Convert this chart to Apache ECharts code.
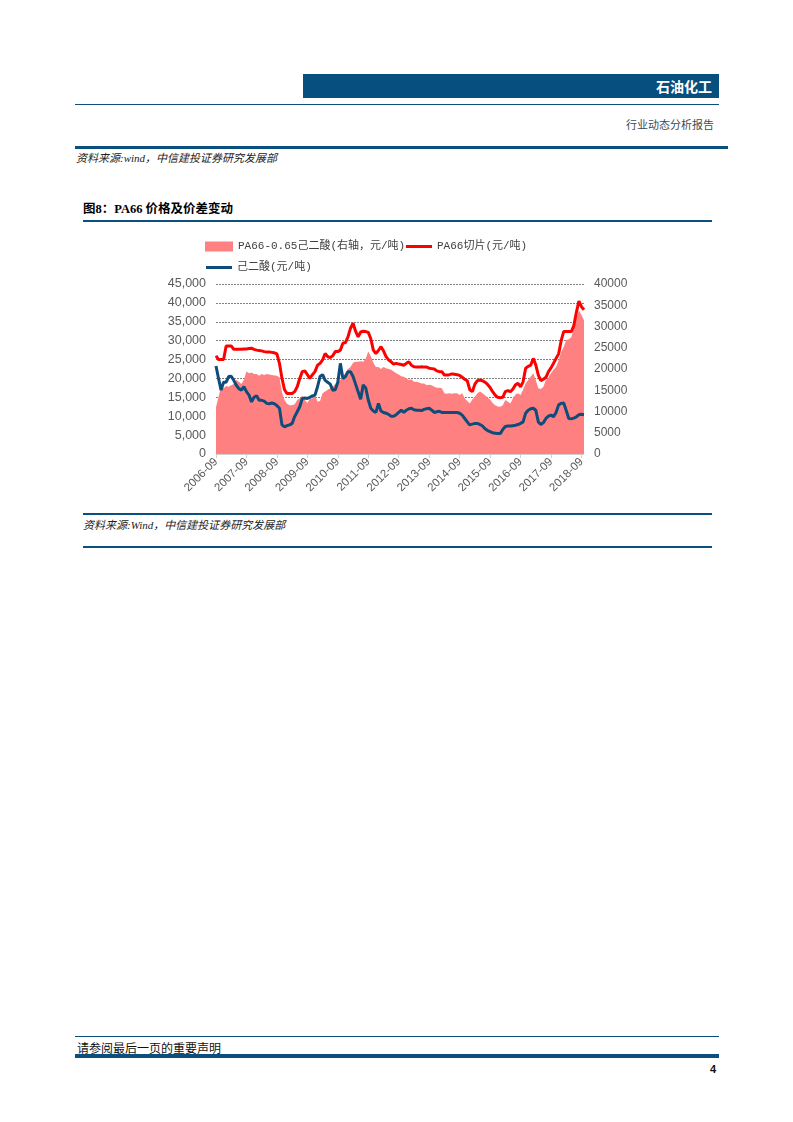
<!DOCTYPE html>
<html>
<head>
<meta charset="utf-8">
<script src="https://cdn.jsdelivr.net/npm/echarts@6/dist/echarts.min.js"></script>
<style>
  html, body { margin:0; padding:0; background:#fff; }
  body { width:793px; height:1122px; position:relative; overflow:hidden;
         font-family:'Liberation Serif','Noto Sans CJK SC',serif; }
  .abs { position:absolute; }
  .hl { position:absolute; background:#0A4F7E; }
  #chart { position:absolute; left:0; top:0; width:793px; height:1122px; }
</style>
</head>
<body>
<div class="abs" style="left:303px;top:74px;width:416px;height:24px;background:#074F7E;"></div>
<div class="abs" style="left:303px;top:74px;width:409px;height:24px;line-height:24px;text-align:right;color:#fff;font-family:'Noto Sans CJK SC';font-weight:bold;font-size:14px;">石油化工</div>
<div class="hl" style="left:75px;top:104px;width:644px;height:1px;"></div>
<div class="abs" style="left:500px;top:116px;width:214px;text-align:right;color:#404a55;font-family:'Noto Sans CJK SC';font-size:11px;line-height:16px;">行业动态分析报告</div>
<div class="hl" style="left:75px;top:146px;width:653px;height:3px;"></div>
<div class="abs" style="left:76px;top:151px;color:#222;font-style:italic;font-size:11px;line-height:14px;font-family:'Liberation Serif','Noto Sans CJK SC';">资料来源:wind，中信建投证券研究发展部</div>
<div class="abs" style="left:83px;top:201px;color:#000;font-weight:bold;font-size:12.5px;line-height:16px;font-family:'Liberation Serif','Noto Sans CJK SC';">图8：PA66 价格及价差变动</div>
<div class="hl" style="left:83px;top:220px;width:629px;height:2px;"></div>
<div class="hl" style="left:83px;top:513px;width:629px;height:2px;"></div>
<div class="abs" style="left:83px;top:518px;color:#222;font-style:italic;font-size:11px;line-height:14px;font-family:'Liberation Serif','Noto Sans CJK SC';">资料来源:Wind，中信建投证券研究发展部</div>
<div class="hl" style="left:83px;top:546px;width:629px;height:2px;"></div>
<div class="hl" style="left:75px;top:1036px;width:644px;height:1px;"></div>
<div class="abs" style="left:77px;top:1040px;color:#111;font-size:12px;line-height:16px;font-family:'Noto Sans CJK SC';">请参阅最后一页的重要声明</div>
<div class="hl" style="left:75px;top:1054px;width:644px;height:4px;"></div>
<div class="abs" style="left:700px;top:1062px;width:16px;text-align:right;color:#111;font-weight:bold;font-size:11px;line-height:14px;font-family:'Liberation Sans';">4</div>
<div id="chart"></div>
<script>
// ---- data (monthly, 2006-09 .. 2018-10) ----
const startYear = 2006, startMonth = 9;
const tickLabels = ['2006-09','2007-09','2008-09','2009-09','2010-09','2011-09','2012-09','2013-09','2014-09','2015-09','2016-09','2017-09','2018-09'];

const pa66Chip = [
26000,25000,25000,25000,28600,28600,28600,27700,27700,27700,
27700,27800,27800,27900,28000,27700,27500,27400,27300,27100,
27000,27000,26900,26800,26500,24000,20000,17000,16000,16000,
16000,16500,17800,20000,21800,22000,21000,20000,21000,21800,
23500,24000,24900,26600,25800,25500,26000,27100,27100,27500,
29300,29500,31000,33300,34600,32500,31000,32300,32500,32400,
32200,30500,27500,26600,27400,28400,27300,25800,24900,24400,
23800,24000,23800,23700,23500,24000,24400,23500,23100,23000,
23000,23100,23000,23000,22700,22600,22500,22000,21800,21800,
20900,20900,21000,21200,21100,21000,20800,20300,19800,19400,
17000,16500,18500,19400,19600,19400,19000,18400,17600,16500,
15600,15000,14900,15000,16500,16800,16500,17200,18300,18700,
17800,19100,22700,23200,23500,25300,23600,20900,19400,19800,
20300,21800,22800,24000,25300,26500,30000,32400,32400,32400,
32400,34000,37500,40500,39000,38200
];

const adipicAcid = [
23300,20000,16900,19000,19000,20500,20600,19500,18200,17300,
16900,17800,16500,15600,13800,15000,15400,14200,14200,14000,
13400,13300,13500,13300,12800,12100,7700,7200,7500,7700,
8100,9900,11200,12500,14700,14800,14700,15000,15400,15600,
17800,20500,21000,19500,19000,18500,16900,17000,19000,24000,
20000,20500,21800,21800,20500,18500,16500,14500,18300,17500,
14300,12100,11400,11000,13400,11400,11000,10800,10500,10000,
10000,10400,11000,11600,11000,11600,12000,12100,11700,11600,
11600,11500,11800,12000,12100,11600,11000,11200,11300,11000,
11000,11000,11000,11000,11000,11000,10800,10300,9400,8500,
7700,7900,8100,8100,7800,7400,6700,6200,5900,5600,
5500,5400,5400,6500,7300,7400,7400,7500,7600,7800,
8100,8500,10800,11600,12000,12100,11600,8500,7800,8300,
9400,10000,10300,9900,11000,13000,13400,13500,11500,9400,
9300,9500,9800,10400,10500,10400
];

const spread = [
11000,13500,15800,15500,16000,15800,16200,16500,17400,17000,
16500,17500,19400,19000,19200,18800,18800,18400,18800,18600,
18800,18700,18600,18500,18400,18000,14500,12700,11800,11500,
11500,11700,12700,13100,13700,12700,12000,13000,13100,13900,
12300,12500,14300,14700,15100,15500,15800,16500,17000,17400,
18200,19000,20000,20500,21500,21700,21700,21800,21700,22500,
24100,23000,21500,20500,20500,20000,20500,20200,20000,19800,
19400,19000,18700,18300,18200,17800,17400,17600,17000,17000,
16800,16600,16600,16200,16300,16200,15800,15600,15600,15500,
14300,14200,14300,14200,14300,14300,13900,14300,13100,12500,
11900,12800,13500,14300,14700,14300,13800,13300,12800,12000,
11500,11200,11100,11500,12700,12300,11900,13100,14000,14300,
13900,15100,16600,17400,18200,19000,17400,15500,15300,15800,
17400,18000,19000,19800,20500,22000,24000,25200,26800,27000,
27500,29500,32000,33800,32700,31500
];

const names = ['PA66-0.65己二酸(右轴，元/吨)', 'PA66切片(元/吨)', '己二酸(元/吨)'];

// month categories
const categories = [];
for (let i = 0; i < pa66Chip.length; i++) {
  const t = (startMonth - 1) + i;
  const y = startYear + Math.floor(t / 12);
  const mo = (t % 12) + 1;
  categories.push(y + '-' + (mo < 10 ? '0' + mo : mo));
}
const tickSet = new Set(tickLabels);

const chart = echarts.init(document.getElementById('chart'), null, {renderer:'canvas'});
const legendText = { color:'#404040', fontSize:11, fontFamily:"'Liberation Mono','Noto Sans CJK SC'" };
chart.setOption({
  animation:false,
  backgroundColor:'transparent',
  legend:[
    { left:200, top:236, itemWidth:28, itemHeight:10, icon:'rect', itemGap:4,
      data:[names[0]], textStyle:legendText },
    { left:401, top:236, itemWidth:26, itemHeight:3, icon:'rect',
      data:[names[1]], textStyle:legendText },
    { left:201, top:257, itemWidth:26, itemHeight:3, icon:'rect',
      data:[names[2]], textStyle:legendText }
  ],
  grid:{ left:216, right:209, top:284, bottom:668, containLabel:false },
  xAxis:{
    type:'category', data:categories, boundaryGap:false,
    axisLine:{ show:true, lineStyle:{ color:'#d0d0d0', width:1 } },
    axisTick:{ show:true, length:4, lineStyle:{ color:'#d0d0d0' },
      interval:(i, v) => tickSet.has(v) },
    axisLabel:{ rotate:45, color:'#595959', fontSize:11.5, fontFamily:'Liberation Sans', margin:6,
      interval:(i, v) => tickSet.has(v) },
    splitLine:{ show:false }
  },
  yAxis:[
    { type:'value', min:0, max:45000, interval:5000, position:'left',
      axisLine:{ show:false }, axisTick:{ show:false },
      axisLabel:{ color:'#595959', fontSize:12.5, fontFamily:'Liberation Sans', margin:10,
        formatter:v => v.toLocaleString('en-US') },
      splitLine:{ show:true, lineStyle:{ color:'#808080', width:1.2, type:[2,1] } } },
    { type:'value', min:0, max:40000, interval:5000, position:'right',
      axisLine:{ show:false }, axisTick:{ show:false },
      axisLabel:{ color:'#595959', fontSize:12, fontFamily:'Liberation Sans', margin:10,
        formatter:v => String(v) },
      splitLine:{ show:false } }
  ],
  series:[
    { name:names[0], type:'line', yAxisIndex:1, data:spread, showSymbol:false, smooth:false,
      lineStyle:{ width:0, color:'#FF8080' }, itemStyle:{ color:'#FF8080' },
      areaStyle:{ color:'#FF8080', opacity:1 }, z:1 },
    { name:names[1], type:'line', yAxisIndex:0, data:pa66Chip, showSymbol:false,
      lineStyle:{ width:3, color:'#FF0000' }, itemStyle:{ color:'#FF0000' }, z:3 },
    { name:names[2], type:'line', yAxisIndex:0, data:adipicAcid, showSymbol:false,
      lineStyle:{ width:3, color:'#0E4C7B' }, itemStyle:{ color:'#0E4C7B' }, z:4 }
  ]
});
</script>
</body>
</html>
